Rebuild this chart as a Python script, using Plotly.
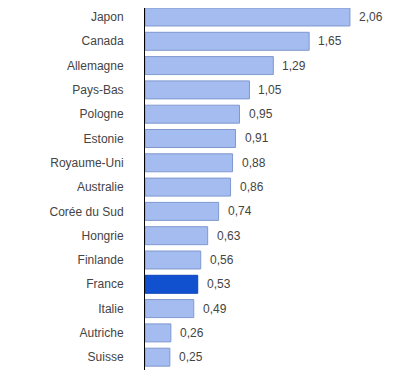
import plotly.graph_objects as go

countries = ["Japon", "Canada", "Allemagne", "Pays-Bas", "Pologne", "Estonie",
             "Royaume-Uni", "Australie", "Corée du Sud", "Hongrie", "Finlande",
             "France", "Italie", "Autriche", "Suisse"]
values = [2.06, 1.65, 1.29, 1.05, 0.95, 0.91, 0.88, 0.86, 0.74, 0.63, 0.56,
          0.53, 0.49, 0.26, 0.25]
labels = [f"{v:.2f}".replace(".", ",") for v in values]

fills = ["#1150cf" if c == "France" else "#a4bcef" for c in countries]
lines = ["#0d44b8" if c == "France" else "#7f98cf" for c in countries]

FONT = "Liberation Sans, Arial, sans-serif"

fig = go.Figure(go.Bar(
    x=values, y=countries, orientation="h",
    marker=dict(color=fills, line=dict(color=lines, width=1)),
    width=0.74,
    hoverinfo="skip",
))

for c, v, t in zip(countries, values, labels):
    fig.add_annotation(x=v, y=c, text=t, showarrow=False, xanchor="left",
                       xshift=7, font=dict(family=FONT, size=12, color="#444444"))

fig.update_layout(
    width=407, height=376,
    margin=dict(l=137, r=0, t=0, b=14),
    paper_bgcolor="white", plot_bgcolor="white",
    showlegend=False,
    font=dict(family=FONT, size=12, color="#444444"),
    xaxis=dict(range=[0, 2.714], visible=False, showgrid=False, zeroline=False),
    yaxis=dict(range=[14.527, -0.37], showgrid=False, zeroline=False,
               showline=True, linecolor="black", linewidth=1,
               ticks="", ticklabelstandoff=18,
               tickfont=dict(family=FONT, size=12, color="#444444")),
)

fig.write_html("out.html")
